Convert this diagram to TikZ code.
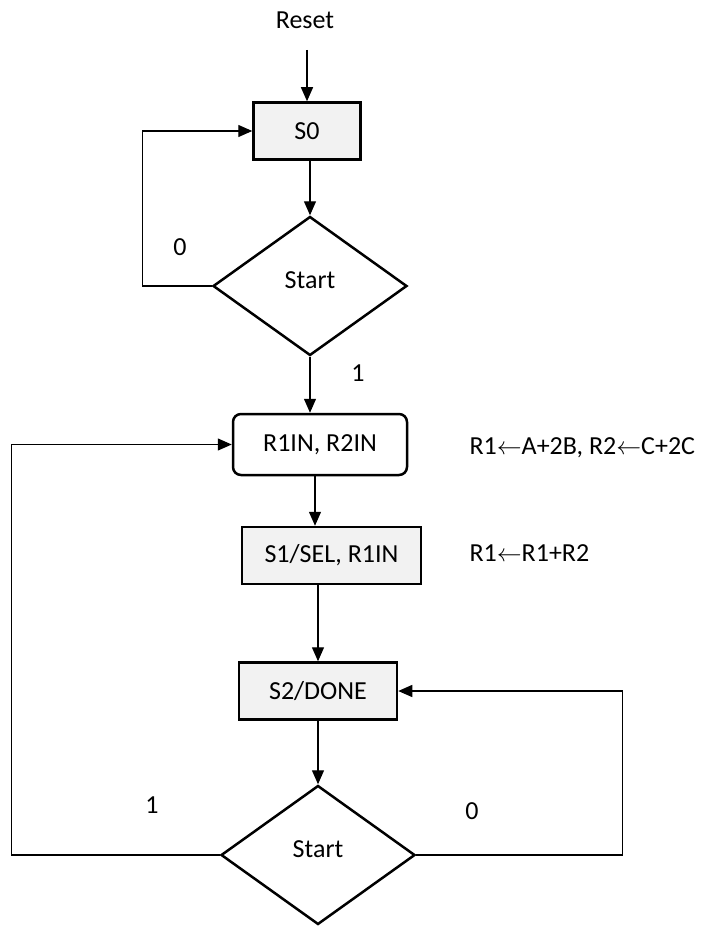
\documentclass[tikz,border=0pt]{standalone}
\usepackage{fontspec}
\setmainfont{Carlito}
\usetikzlibrary{arrows.meta,shapes.geometric}
\definecolor{stategray}{RGB}{242,242,242}

\begin{document}
\begin{tikzpicture}[x=1pt,y=-1pt, every node/.style={font=\fontsize{26}{30}\selectfont},
  statebox/.style={draw, line width=2.5pt, fill=stategray, minimum width=#1, minimum height=57pt, inner sep=0pt},
  decision/.style={draw, diamond, line width=2.5pt, minimum width=194pt, minimum height=139pt, inner sep=0pt, text depth=12pt},
  flow/.style={-{Triangle[length=14pt,width=12pt]}, line width=1.3pt}]
  \useasboundingbox (0,0) rectangle (704,928);

  \node (reset) at (305,20) {Reset};
  \coordinate (rin) at (307,50);
  \node[statebox=107pt] (s0) at (307,131) {S0};
  \node[decision] (d1) at (310,286) {Start};
  \node[statebox=174pt, minimum height=61pt, rounded corners=8pt, fill=white] (r12) at (320,444.5) {R1IN, R2IN};
  \node[statebox=179pt] (s1) at (331.5,555.5) {S1/SEL, R1IN};
  \node[statebox=158pt] (s2) at (318,691) {S2/DONE};
  \node[decision] (d2) at (318,855) {Start};

  \node[anchor=west] (act1) at (466,448) {R1$\leftarrow$A+2B, R2$\leftarrow$C+2C};
  \node[anchor=west] (act2) at (466,553) {R1$\leftarrow$R1+R2};

  \node (z1) at (180,247) {0};
  \node (o1) at (358,373) {1};
  \node (o2) at (152,805) {1};
  \node (z2) at (472,811) {0};

  \draw[flow] (rin) -- (s0.north);
  \draw[flow] (s0.south -| d1.north) -- (d1.north);
  \draw[flow] (d1.west) -- ++(-69,0) |- (s0.west);
  \draw[flow] (d1.south) -- (d1.south |- r12.north);
  \draw[flow] ([xshift=-5pt]r12.south) -- ([xshift=-5pt]r12.south |- s1.north);
  \draw[flow] (s1.south -| s2.north) -- (s2.north);
  \draw[flow] (s2.south) -- (d2.north);
  \draw[flow] (d2.east) -- ++(206,0) |- (s2.east);
  \draw[flow] (d2.west) -- ++(-208,0) |- (r12.west);
\end{tikzpicture}
\end{document}
